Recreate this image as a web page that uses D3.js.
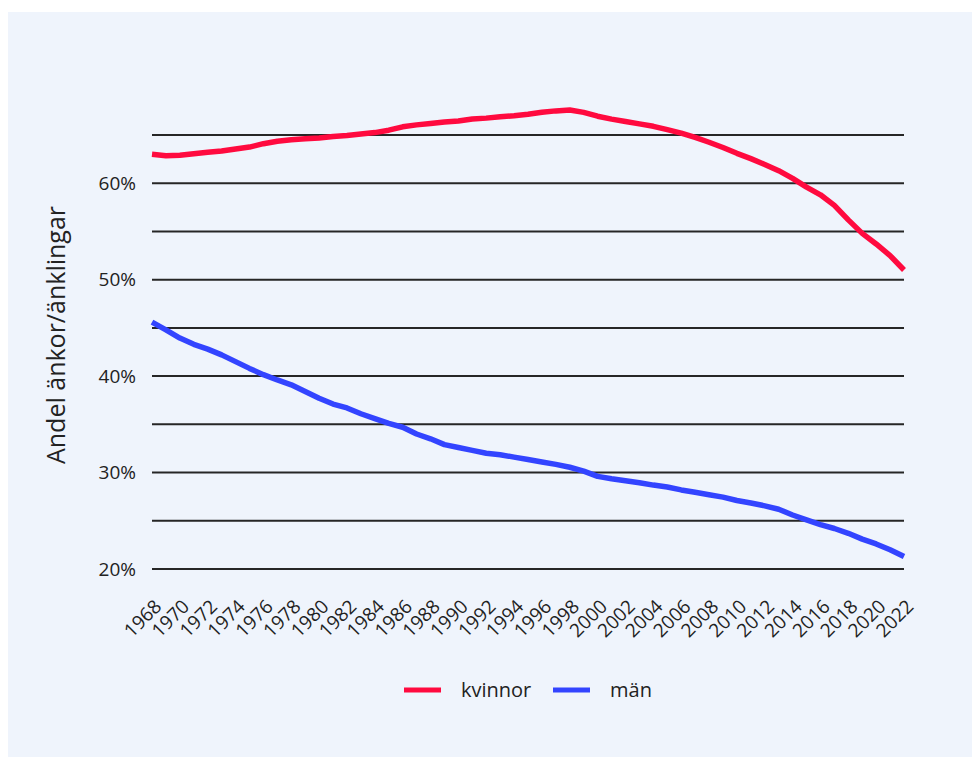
<!DOCTYPE html>
<html>
<head>
    <meta charset="utf-8">
    <title>Andel änkor/änklingar</title>
    <script type="text/javascript" src="https://cdn.jsdelivr.net/npm/d3@7/dist/d3.min.js"></script>
    <style>
        body { margin: 0; background: #fff; }
        text { font-family: "Open Sans", "Noto Sans", sans-serif; fill: #222; }
    </style>
</head>
<body>
<script type="text/javascript">
    // data
    let years = d3.range(1968, 2023);
    let kvinnor = [
        63.0, 62.85, 62.9, 63.05, 63.2, 63.35, 63.55, 63.75, 64.1, 64.35,
        64.5, 64.6, 64.7, 64.85, 64.95, 65.1, 65.25, 65.5, 65.85, 66.05,
        66.2, 66.35, 66.45, 66.65, 66.75, 66.9, 67.0, 67.15, 67.35, 67.5,
        67.6, 67.35, 66.95, 66.65, 66.4, 66.15, 65.9, 65.55, 65.2, 64.75,
        64.25, 63.7, 63.1, 62.55, 61.95, 61.3, 60.5, 59.6, 58.8, 57.7,
        56.2, 54.8, 53.7, 52.5, 51.0
    ];
    let man = [
        45.6, 44.8, 43.95, 43.3, 42.8, 42.2, 41.5, 40.8, 40.15, 39.6,
        39.1, 38.4, 37.7, 37.1, 36.7, 36.1, 35.6, 35.1, 34.7, 34.0,
        33.5, 32.9, 32.6, 32.3, 32.0, 31.85, 31.6, 31.35, 31.1, 30.85,
        30.55, 30.15, 29.6, 29.35, 29.15, 28.95, 28.7, 28.5, 28.2, 27.95,
        27.7, 27.45, 27.1, 26.85, 26.55, 26.2, 25.6, 25.1, 24.6, 24.2,
        23.7, 23.1, 22.6, 22.0, 21.3
    ];
    let gridValues = [20, 25, 30, 35, 40, 45, 50, 55, 60, 65];
    let labelValues = [20, 30, 40, 50, 60];
    let seriesNames = ["kvinnor", "män"];
    let seriesColors = ["#ff0a3f", "#3344ff"];

    let width = 972, height = 757,
        margins = { left: 152, top: 135, right: 68, bottom: 188 };

    let svg = d3.select("body").append("svg")
        .attr("width", width)
        .attr("height", height);

    svg.append("rect")
        .attr("x", 8)
        .attr("y", 12)
        .attr("width", width - 8)
        .attr("height", height - 12)
        .attr("fill", "#eff4fc");

    let x = d3.scaleLinear()
        .domain([1968, 2022])
        .range([margins.left, width - margins.right]);
    let y = d3.scaleLinear()
        .domain([20, 65])
        .range([height - margins.bottom, margins.top]);

    // grid lines
    svg.append("g").selectAll("line")
        .data(gridValues)
        .enter().append("line")
        .attr("x1", x(1968))
        .attr("x2", x(2022))
        .attr("y1", d => y(d))
        .attr("y2", d => y(d))
        .attr("stroke", "#262626")
        .attr("stroke-width", 2);

    // y labels
    svg.append("g").selectAll("text")
        .data(labelValues)
        .enter().append("text")
        .attr("x", 136)
        .attr("y", d => y(d))
        .attr("dy", "0.35em")
        .attr("text-anchor", "end")
        .style("font-size", "19px")
        .text(d => d + "%");

    svg.append("text")
        .attr("transform", "translate(65,335) rotate(-90)")
        .attr("text-anchor", "middle")
        .style("font-size", "25px")
        .text("Andel änkor/änklingar");

    // x labels every 2 years
    svg.append("g").selectAll("text")
        .data(years.filter(d => d % 2 === 0))
        .enter().append("text")
        .attr("transform", d => "translate(" + (x(d) + 6) + ",603) rotate(-45)")
        .attr("dy", "0.35em")
        .attr("text-anchor", "end")
        .style("font-size", "19px")
        .text(d => d);

    let line = d3.line()
        .x((d, i) => x(years[i]))
        .y(d => y(d));

    svg.append("g").selectAll("path")
        .data([kvinnor, man])
        .enter().append("path")
        .attr("d", d => line(d))
        .attr("fill", "none")
        .attr("stroke", (d, i) => seriesColors[i])
        .attr("stroke-width", 5.5)
        .attr("stroke-linejoin", "round");

    // legend
    let legendX = [404, 553];
    let legend = svg.append("g").selectAll("g")
        .data(seriesNames)
        .enter().append("g")
        .attr("transform", (d, i) => "translate(" + legendX[i] + ",690)");
    legend.append("line")
        .attr("x1", 0)
        .attr("x2", 37)
        .attr("stroke", (d, i) => seriesColors[i])
        .attr("stroke-width", 5);
    legend.append("text")
        .attr("x", 57)
        .attr("dy", "0.35em")
        .style("font-size", "20px")
        .text(d => d);
</script>
</body>
</html>
